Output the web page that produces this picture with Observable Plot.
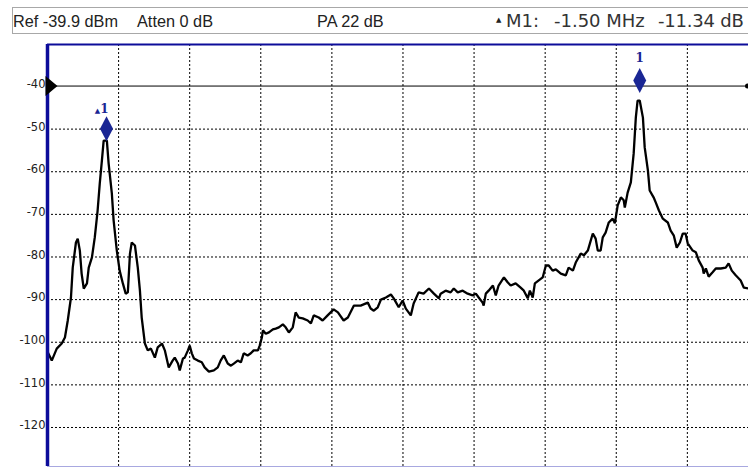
<!DOCTYPE html>
<html><head><meta charset="utf-8">
<script src="https://cdn.jsdelivr.net/npm/d3@7"></script>
<script src="https://cdn.jsdelivr.net/npm/@observablehq/plot@0.6"></script>
<style>
html,body{margin:0;padding:0;background:#fff;overflow:hidden;}
#wrap{position:relative;width:748px;height:467px;overflow:hidden;}
#chart{position:absolute;left:0;top:0;}
#hdr{position:absolute;left:12px;top:7px;width:800px;height:27px;border:1px solid #a8a8a8;box-sizing:border-box;}
.t{position:absolute;white-space:nowrap;color:#222;}
.s{font-family:"Liberation Sans",Arial,sans-serif;font-size:16.3px;line-height:20px;top:11px;}
.m{font-family:"DejaVu Sans",sans-serif;font-size:18px;line-height:22px;top:10px;color:#333;}
</style></head><body>
<div id="wrap">
<div id="chart"></div>
<div id="hdr"></div>
<span class="t s" style="left:13px">Ref -39.9 dBm</span>
<span class="t s" style="left:137px">Atten 0 dB</span>
<span class="t s" style="left:317px">PA 22 dB</span>
<span class="t" style="left:496px;top:16px;font-family:'DejaVu Sans';font-size:7px;line-height:8px">▲</span>
<span class="t m" style="left:506px">M1:</span>
<span class="t m" style="left:554px">-1.50 MHz</span>
<span class="t m" style="left:658px;letter-spacing:-0.2px">-11.34 dB</span>
</div>
<script>
// Frequency offset from start of sweep (MHz) and trace level (dBm)
const freqMHz = [
0.000,0.012,0.026,0.040,0.049,0.057,0.066,0.071,0.080,0.085,
0.091,0.096,0.102,0.111,0.116,0.125,0.133,0.141,0.147,0.153,
0.158,0.167,0.172,0.181,0.186,0.195,0.203,0.212,0.220,0.226,
0.232,0.237,0.246,0.254,0.260,0.265,0.274,0.282,0.291,0.302,
0.310,0.322,0.330,0.341,0.352,0.358,0.367,0.372,0.381,0.386,
0.395,0.400,0.406,0.412,0.423,0.434,0.442,0.454,0.468,0.479,
0.487,0.496,0.507,0.516,0.524,0.535,0.544,0.552,0.563,0.572,
0.580,0.592,0.597,0.603,0.606,0.614,0.623,0.634,0.642,0.651,
0.662,0.670,0.679,0.690,0.698,0.707,0.718,0.732,0.741,0.749,
0.763,0.774,0.788,0.805,0.817,0.833,0.845,0.862,0.881,0.901,
0.909,0.918,0.929,0.938,0.952,0.966,0.974,0.988,0.999,1.008,
1.022,1.030,1.044,1.058,1.073,1.087,1.101,1.106,1.120,1.134,
1.143,1.154,1.168,1.182,1.196,1.205,1.213,1.224,1.227,1.233,
1.241,1.253,1.261,1.269,1.284,1.295,1.303,1.317,1.331,1.340,
1.351,1.357,1.365,1.371,1.382,1.393,1.402,1.410,1.421,1.430,
1.444,1.458,1.466,1.478,1.486,1.500,1.509,1.520,1.534,1.542,
1.548,1.556,1.562,1.570,1.579,1.590,1.596,1.604,1.613,1.621,
1.624,1.632,1.641,1.649,1.655,1.660,1.666,1.675,1.680,1.689,
1.694,1.705,1.711,1.720,1.731,1.745,1.753,1.762,1.770,1.779,
1.787,1.795,1.801,1.815,1.824,1.832,1.843,1.846,1.852,1.860,
1.871,1.880,1.894,1.908,1.916,1.925,1.936,1.950,1.959,1.973];
const levelDb = [
-102.2,-104.3,-101.5,-100.3,-98.9,-94.9,-89.5,-82.5,-76.6,-75.7,
-78.5,-83.9,-87.4,-86.2,-82.5,-80.1,-75.4,-69.1,-62.8,-57.4,
-52.7,-52.7,-58.1,-65.1,-71.4,-78.5,-83.2,-86.2,-88.6,-88.3,
-79.2,-76.6,-77.3,-82.5,-87.9,-94.2,-100.3,-101.9,-101.5,-103.6,
-101.2,-100.3,-101.9,-105.9,-104.3,-103.6,-105.0,-106.6,-103.8,-103.6,
-101.9,-100.8,-102.6,-103.8,-104.3,-104.7,-105.9,-106.9,-106.6,-105.9,
-104.3,-103.1,-105.0,-105.5,-105.0,-104.3,-104.7,-102.6,-103.1,-102.6,
-101.9,-101.9,-100.8,-98.9,-97.2,-98.0,-97.7,-97.0,-96.8,-96.5,
-95.8,-96.5,-97.7,-96.5,-93.0,-94.2,-94.4,-94.9,-95.6,-93.7,
-94.2,-94.9,-93.7,-92.3,-93.0,-94.9,-94.2,-91.4,-91.4,-90.7,
-92.1,-92.6,-91.8,-90.0,-89.5,-88.8,-89.7,-91.8,-90.2,-92.1,
-93.7,-90.9,-88.3,-88.6,-87.4,-88.6,-89.7,-88.6,-87.9,-88.3,
-87.4,-88.3,-87.9,-88.6,-89.0,-88.6,-89.5,-90.7,-91.4,-88.6,
-87.9,-86.7,-89.0,-86.7,-84.8,-86.0,-86.7,-86.2,-87.2,-87.9,
-89.7,-87.9,-89.5,-86.2,-85.5,-84.8,-82.0,-82.0,-83.2,-82.9,
-83.9,-84.3,-82.5,-83.2,-81.3,-79.2,-79.6,-78.5,-74.5,-75.7,
-78.5,-78.5,-75.4,-74.3,-71.9,-71.0,-72.1,-67.9,-66.0,-66.7,
-68.4,-64.9,-62.5,-55.7,-47.3,-43.3,-43.3,-47.3,-54.3,-59.7,
-64.4,-66.0,-67.2,-69.1,-71.0,-71.9,-73.8,-75.0,-77.8,-76.6,
-74.5,-74.5,-76.8,-78.5,-78.9,-80.8,-82.5,-83.9,-82.7,-84.6,
-83.6,-82.7,-82.7,-82.5,-81.5,-83.2,-84.3,-85.5,-87.2,-87.4];

const yTickValues = [-40,-50,-60,-70,-80,-90,-100,-110,-120];
const yGridValues = [-50,-60,-70,-80,-90,-100,-110,-120];
const xGridValues = [0.2,0.4,0.6,0.8,1.0,1.2,1.4,1.6,1.8];
const refLevel = -39.9;
const markerFreq = [0.166, 1.666];
const markerLevel = [-49.9, -38.6];
const markerText = ["1", "1"];
const markerDelta = [true, false];
const xDomain = [0, 1.972];
const yDomain = [-129.15, -30.15];

const trace = freqMHz.map((f, i) => ({f, db: levelDb[i]}));
const markers = markerFreq.map((f, i) => ({f, db: markerLevel[i], text: markerText[i], delta: markerDelta[i]}));
const deltaMarkers = markers.filter(d => d.delta);
const refMarkers = markers.filter(d => !d.delta);

const navy = "#0c0c9a";
const mkColor = "#1a2694";

const tallDiamond = {draw(ctx) { ctx.moveTo(0, -12.5); ctx.lineTo(6.5, 0); ctx.lineTo(0, 12.5); ctx.lineTo(-6.5, 0); ctx.closePath(); }};
const triRight = {draw(ctx) { ctx.moveTo(-2, -10); ctx.lineTo(10, 0); ctx.lineTo(-2, 10); ctx.closePath(); }};

const chart = Plot.plot({
  width: 748, height: 467,
  marginTop: 44, marginBottom: 1, marginLeft: 47, marginRight: 0,
  x: {domain: xDomain, axis: null},
  y: {domain: yDomain},
  style: {background: "#fff", fontFamily: "DejaVu Sans, sans-serif", overflow: "visible"},
  marks: [
    Plot.ruleY(yGridValues, {stroke: "#000", strokeDasharray: "2,2", strokeWidth: 1}),
    Plot.ruleX(xGridValues, {stroke: "#000", strokeDasharray: "2,2", strokeWidth: 1}),
    Plot.ruleY([yDomain[0]], {stroke: "#a8a8e0", strokeWidth: 1}),
    Plot.ruleY([refLevel], {stroke: "#000", strokeWidth: 1}),
    Plot.line(trace, {x: "f", y: "db", stroke: "#000", strokeWidth: 2.3, strokeLinejoin: "miter", clip: true}),
    Plot.ruleX([xDomain[0]], {stroke: navy, strokeWidth: 3.5}),
    Plot.ruleY([yDomain[1]], {stroke: navy, strokeWidth: 2}),
    Plot.axisY(yTickValues, {tickSize: 0, tickPadding: 2, fontSize: 11.5, dy: -2, fill: "#222", label: null, tickFormat: d => String(d)}),
    Plot.dot([refLevel], {x: () => xDomain[0], y: d => d, symbol: triRight, fill: "#000", stroke: null}),
    Plot.dot([refLevel], {x: () => xDomain[1], y: d => d, r: 2.5, fill: "#000", dx: -1}),
    Plot.dot(markers, {x: "f", y: "db", symbol: tallDiamond, fill: mkColor, stroke: null}),
    Plot.text(refMarkers, {x: "f", y: "db", text: "text", dy: -22, fill: mkColor, fontWeight: "bold", fontSize: 12, fontFamily: "DejaVu Serif"}),
    Plot.text(deltaMarkers, {x: "f", y: "db", text: "text", dy: -20, dx: -2, fill: mkColor, fontWeight: "bold", fontSize: 12, fontFamily: "DejaVu Serif"}),
    Plot.text(deltaMarkers, {x: "f", y: "db", text: () => "▲", dx: -9, dy: -18, fill: mkColor, fontSize: 7})
  ]
});
document.getElementById("chart").append(chart);
</script>
</body></html>
